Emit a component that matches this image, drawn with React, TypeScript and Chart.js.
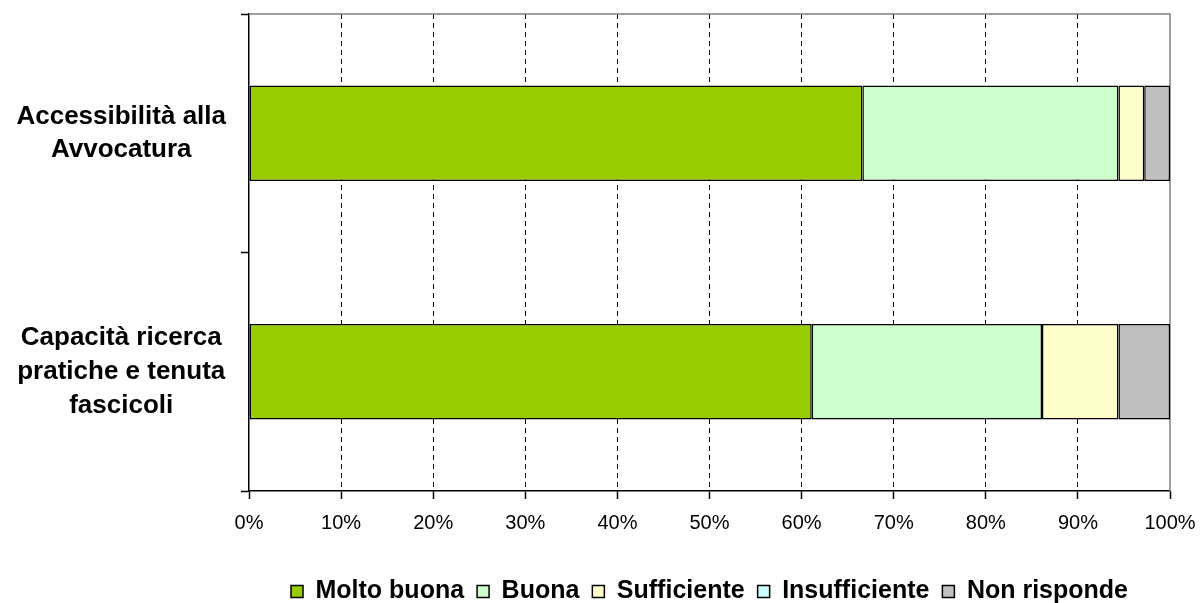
import React, { useEffect, useRef } from "react";
import { Chart, registerables } from "chart.js";

Chart.register(...registerables);

const categories: (string | string[])[] = [
  ["Accessibilità alla", "Avvocatura"],
  ["Capacità ricerca", "pratiche e tenuta", "fascicoli"],
];
const seriesNames = ["Molto buona", "Buona", "Sufficiente", "Insufficiente", "Non risponde"];
const moltoBuona = [66.6, 61.1];
const buona = [27.8, 25.0];
const sufficiente = [2.8, 8.3];
const insufficiente = [0, 0];
const nonRisponde = [2.8, 5.6];
const seriesColors = ["#99CC00", "#CCFFCC", "#FFFFCC", "#CCFFFF", "#C0C0C0"];
const xTicks = [0, 10, 20, 30, 40, 50, 60, 70, 80, 90, 100];

const FONT = "'Liberation Sans', Arial, sans-serif";

const framePlugin = {
  id: "frame",
  beforeDatasetsDraw(chart: any) {
    const { ctx, chartArea } = chart;
    ctx.save();
    ctx.strokeStyle = "#808080";
    ctx.lineWidth = 1.5;
    ctx.beginPath();
    ctx.moveTo(chartArea.left, chartArea.top);
    ctx.lineTo(chartArea.right, chartArea.top);
    ctx.lineTo(chartArea.right, chartArea.bottom);
    ctx.stroke();
    ctx.restore();
  },
};

export default function App() {
  const ref = useRef<HTMLCanvasElement | null>(null);
  useEffect(() => {
    if (!ref.current) return;
    const values = [moltoBuona, buona, sufficiente, insufficiente, nonRisponde];
    const chart = new Chart(ref.current, {
      type: "bar",
      data: {
        labels: categories as any,
        datasets: seriesNames.map((name, i) => ({
          label: name,
          data: values[i],
          backgroundColor: seriesColors[i],
          borderColor: "#000000",
          borderWidth: 1.5,
          borderSkipped: false,
          categoryPercentage: 1,
          barPercentage: 0.4,
        })),
      },
      options: {
        indexAxis: "y",
        responsive: false,
        animation: false,
        layout: { padding: { top: 14, right: 30, left: 0, bottom: -11 } },
        plugins: {
          tooltip: { enabled: false },
          legend: {
            position: "bottom",
            fullSize: false,
            labels: {
              boxWidth: 12,
              boxHeight: 12,
              padding: 13,
              color: "#000",
              font: { family: FONT, size: 25, weight: "bold" },
            },
          },
        },
        scales: {
          x: {
            stacked: true,
            min: 0,
            max: 100,
            afterBuildTicks: (scale: any) => {
              scale.ticks = xTicks.map((v) => ({ value: v }));
            },
            afterFit: (scale: any) => {
              scale.height = 75;
              scale.paddingLeft = 0;
              scale.paddingRight = 0;
            },
            ticks: {
              padding: 12,
              color: "#000",
              font: { family: FONT, size: 20 },
              callback: (v: any) => v + "%",
            },
            grid: {
              color: (ctx: any) =>
                ctx.tick && (ctx.tick.value === 0 || ctx.tick.value === 100) ? "rgba(0,0,0,0)" : "#000",
              lineWidth: 1,
              tickLength: 8,
              tickColor: "#000",
              tickWidth: 1.5,
              tickBorderDash: [],
            },
            border: { display: true, color: "#000", width: 1.5, dash: [5, 4] },
          },
          y: {
            stacked: true,
            afterFit: (scale: any) => {
              scale.width = 249;
              scale.paddingTop = 0;
              scale.paddingBottom = 0;
            },
            ticks: {
              crossAlign: "center",
              padding: 15,
              color: "#000",
              font: { family: FONT, size: 26, weight: "bold", lineHeight: 1.3 },
            },
            grid: {
              display: true,
              drawOnChartArea: false,
              drawTicks: true,
              tickLength: 8,
              tickColor: "#000",
              tickWidth: 1.5,
              offset: true,
            },
            border: { display: true, color: "#000", width: 1.5 },
          },
        },
      },
      plugins: [framePlugin],
    } as any);
    return () => chart.destroy();
  }, []);
  return (
    <div style={{ position: "absolute", left: 0, top: 0, width: 1200, height: 603, background: "#fff" }}>
      <canvas ref={ref} width={1200} height={603} />
    </div>
  );
}
